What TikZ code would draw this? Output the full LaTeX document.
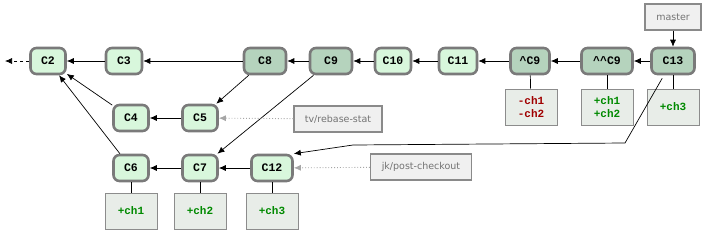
\documentclass[tikz,border=0pt]{standalone}
\usepackage{fontspec}
\setmonofont{Liberation Mono}
\setsansfont{DejaVu Sans}
\usetikzlibrary{arrows.meta}
\definecolor{lgreen}{HTML}{D8F7DC}
\definecolor{dgreen}{HTML}{B5D3BD}
\definecolor{bordergray}{HTML}{7A7A7A}
\definecolor{labelfill}{HTML}{F0F0F0}
\definecolor{labelborder}{HTML}{8A8A8A}
\definecolor{chfill}{HTML}{E8EDE8}
\definecolor{chgreen}{HTML}{008A00}
\definecolor{chred}{HTML}{A00000}
\begin{document}
\begin{tikzpicture}[x=1pt,y=-1pt,
  commit/.style={draw=bordergray,line width=2.6pt,rounded corners=6pt,fill=lgreen,
    minimum height=26pt,inner sep=0pt,font=\ttfamily\bfseries\fontsize{11.5}{12}\selectfont},
  dcommit/.style={commit,fill=dgreen},
  reflabel/.style={draw=labelborder,line width=1.4pt,fill=labelfill,text=black!55,
    minimum height=26pt,inner sep=4pt,font=\sffamily\fontsize{9.5}{11}\selectfont},
  chbox/.style={draw=black!45,line width=0.6pt,fill=chfill,minimum width=52pt,minimum height=36pt,
    inner sep=0pt,align=center,font=\ttfamily\bfseries\fontsize{11}{13.5}\selectfont},
  arr/.style={-{Latex[length=7pt,width=6pt]},line width=0.7pt},
  refarr/.style={-{Latex[length=7pt,width=6pt]},black!35,dotted,line width=0.9pt},
  tie/.style={line width=0.7pt}]
\useasboundingbox (0,0) rectangle (705,231);
% commits
\node[commit,minimum width=35pt] (C2) at (48,61) {C2};
\node[commit,minimum width=36pt] (C3) at (124,61) {C3};
\node[dcommit,minimum width=42pt] (C8) at (265,61) {C8};
\node[dcommit,minimum width=42pt] (C9) at (331,61) {C9};
\node[commit,minimum width=36pt] (C10) at (393,61) {C10};
\node[commit,minimum width=38pt] (C11) at (458,61) {C11};
\node[dcommit,minimum width=39pt] (hC9) at (530,61) {\^{}C9};
\node[dcommit,minimum width=51pt] (hhC9) at (607,61) {\^{}\^{}C9};
\node[dcommit,minimum width=43pt] (C13) at (673,61) {C13};
\node[commit,minimum width=35pt] (C4) at (131,118) {C4};
\node[commit,minimum width=35pt] (C5) at (200,118) {C5};
\node[commit,minimum width=35pt] (C6) at (131,168) {C6};
\node[commit,minimum width=35pt] (C7) at (200,168) {C7};
\node[commit,minimum width=41pt] (C12) at (272,168) {C12};
% ref labels
\node[reflabel,minimum width=56pt] (master) at (673,17) {master};
\node[reflabel,minimum width=88pt] (tv) at (338,119) {tv/rebase-stat};
\node[reflabel,minimum width=101pt] (jk) at (421,167) {jk/post-checkout};
% change boxes
\node[chbox] (b1) at (531,107) {\textcolor{chred}{-ch1}\\\textcolor{chred}{-ch2}};
\node[chbox] (b2) at (607,107) {\textcolor{chgreen}{+ch1}\\\textcolor{chgreen}{+ch2}};
\node[chbox] (b3) at (673,107) {\textcolor{chgreen}{+ch3}};
\node[chbox] (b6) at (131,211) {\textcolor{chgreen}{+ch1}};
\node[chbox] (b7) at (200,211) {\textcolor{chgreen}{+ch2}};
\node[chbox] (b12) at (272,211) {\textcolor{chgreen}{+ch3}};
\coordinate (left) at (5,61);
\coordinate (k1) at (625,143);
\coordinate (k2) at (353,145);
% ties
\draw[tie] (hC9) -- (b1);
\draw[tie] (hhC9) -- (b2);
\draw[tie] (C13) -- (b3);
\draw[tie] (C6) -- (b6);
\draw[tie] (C7) -- (b7);
\draw[tie] (C12) -- (b12);
% connectors
\draw[arr,dashed] (C2) -- (left);
\draw[arr] (C3) -- (C2);
\draw[arr] (C8) -- (C3);
\draw[arr] (C9) -- (C8);
\draw[arr] (C10) -- (C9);
\draw[arr] (C11) -- (C10);
\draw[arr] (hC9) -- (C11);
\draw[arr] (hhC9) -- (hC9);
\draw[arr] (C13) -- (hhC9);
\draw[arr] (master) -- (C13);
\draw[arr] (C4) -- (C2);
\draw[arr] (C6) -- (C2);
\draw[arr] (C5) -- (C4);
\draw[arr] (C7) -- (C6);
\draw[arr] (C12) -- (C7);
\draw[arr] (C8) -- (C5);
\draw[arr] (C9) -- (C7);
\draw[arr] (C13.south west) ++(12pt,-3pt) -- (k1) -- (k2) -- (C12.north east);
\draw[refarr] (tv) -- (C5);
\draw[refarr] (jk) -- (C12);
\end{tikzpicture}
\end{document}
